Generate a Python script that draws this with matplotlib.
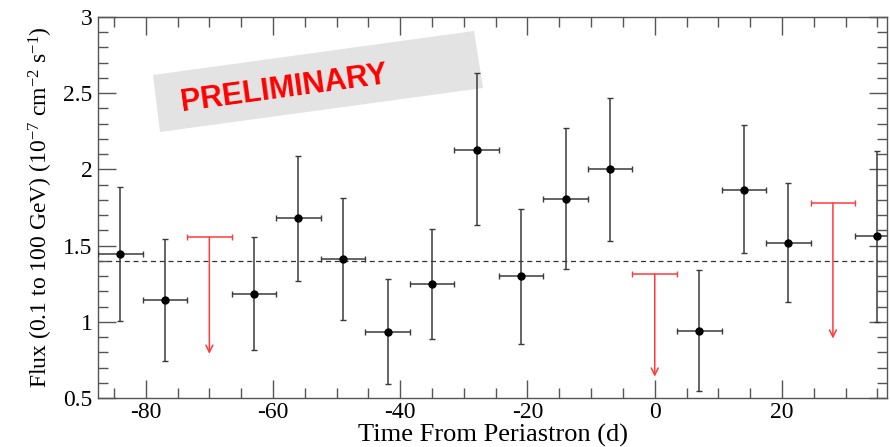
import matplotlib
matplotlib.use("Agg")
import matplotlib.pyplot as plt
from matplotlib.patches import Polygon
from matplotlib.ticker import MultipleLocator, FuncFormatter

plt.rcParams['font.family'] = ['Liberation Serif', 'DejaVu Serif']
plt.rcParams['mathtext.fontset'] = 'custom'
plt.rcParams['mathtext.rm'] = 'Liberation Serif'
plt.rcParams['mathtext.it'] = 'Liberation Serif:italic'
plt.rcParams['axes.unicode_minus'] = False

# Detections
t_det = [-84, -77, -63, -56, -49, -42, -35, -28, -21, -14, -7, 7, 14, 21, 35]
flux = [1.445, 1.145, 1.18, 1.68, 1.41, 0.935, 1.25, 2.13, 1.30, 1.805, 2.00, 0.94, 1.865, 1.52, 1.56]
flux_hi = [1.885, 1.545, 1.555, 2.09, 1.81, 1.28, 1.61, 2.63, 1.74, 2.27, 2.47, 1.34, 2.29, 1.91, 2.12]
flux_lo = [1.005, 0.745, 0.815, 1.265, 1.015, 0.595, 0.885, 1.635, 0.855, 1.345, 1.53, 0.545, 1.45, 1.13, 1.00]
bin_half = 3.5

# Upper limits
t_ul = [-70, 0, 28]
ul = [1.555, 1.315, 1.78]
ul_arrow_end = [0.79, 0.64, 0.89]

mean_flux = 1.40

fig = plt.figure(figsize=(8.9, 4.47), dpi=100)
ax = fig.add_axes([98/890, (447-398)/447, (887-98)/890, (398-17)/447])
ax.patch.set_alpha(0)

yerr = [[f - l for f, l in zip(flux, flux_lo)], [h - f for f, h in zip(flux, flux_hi)]]
ax.errorbar(t_det, flux, yerr=yerr, xerr=bin_half, fmt='o', color='black',
            ecolor='#3a3a3a', elinewidth=1.1, capsize=2.5, capthick=1.0, markersize=5, zorder=3)

red = '#ff3b3b'
ax.errorbar(t_ul, ul, xerr=bin_half, fmt='none', ecolor=red, elinewidth=1.1,
            capsize=2.5, capthick=1.0, zorder=3)
for x, u, e in zip(t_ul, ul, ul_arrow_end):
    ax.annotate('', xy=(x, e), xytext=(x, u),
                arrowprops=dict(arrowstyle='->,head_length=0.5,head_width=0.25',
                                color=red, lw=1.1, shrinkA=0, shrinkB=0))

ax.axhline(mean_flux, color='#333333', lw=0.9, ls=(0, (4, 3)), zorder=1)

ax.set_xlim(-87.5, 36.5)
ax.set_ylim(0.5, 3.0)
ax.xaxis.set_major_locator(MultipleLocator(20))
ax.xaxis.set_minor_locator(MultipleLocator(5))
ax.yaxis.set_major_locator(MultipleLocator(0.5))
ax.yaxis.set_minor_locator(MultipleLocator(0.1))
ax.yaxis.set_major_formatter(FuncFormatter(lambda v, p: f"{v:g}"))
ax.xaxis.set_major_formatter(FuncFormatter(lambda v, p: f"{v:g}"))
ax.tick_params(which='both', direction='in', top=True, right=True, color='#555555',
               labelsize=17)
ax.tick_params(which='major', length=13, width=1)
ax.tick_params(which='minor', length=7, width=1)
ax.tick_params(axis='x', pad=3)
ax.tick_params(axis='y', pad=4)
for s in ax.spines.values():
    s.set_color('#555555')
    s.set_linewidth(1)

ax.set_xlabel('Time From Periastron (d)', fontsize=19)
ax.xaxis.set_label_coords(0.5, -0.068)
ax.set_ylabel(r'Flux (0.1 to 100 GeV) (10$^{\mathrm{-7}}$ cm$^{\mathrm{-2}}$ s$^{\mathrm{-1}}$)',
              fontsize=17, labelpad=6)

# PRELIMINARY stamp (drawn behind the axes content)
W, H = 890, 447
corners = [(153, 75), (474, 31), (483, 88), (160, 132)]
poly = Polygon([(x / W, 1 - y / H) for x, y in corners], closed=True,
               transform=fig.transFigure, facecolor='#e3e3e3', edgecolor='none', zorder=-1)
fig.patches.append(poly)
fig.text(284 / W, 1 - 89 / H, 'PRELIMINARY', color='red', fontsize=22, fontweight='bold',
         family=['Liberation Sans', 'DejaVu Sans'], rotation=7.8, rotation_mode='anchor',
         ha='center', va='center', zorder=1)

fig.savefig('out.png', dpi=100, facecolor='white')
